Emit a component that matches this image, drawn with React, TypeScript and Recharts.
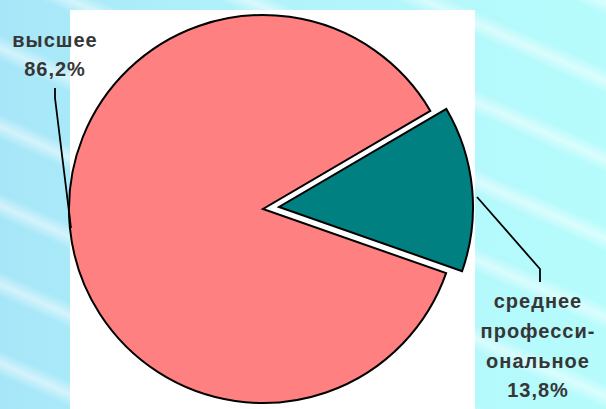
import React from 'react';
import { PieChart, Pie, Cell } from 'recharts';

const categories = ['среднее профессиональное', 'высшее'];
const values = [13.8, 86.2];
const valueLabels = ['13,8%', '86,2%'];
const labelLines = [['среднее', 'професси-', 'ональное'], ['высшее']];

const data = categories.map((name, i) => ({ name, value: values[i], label: valueLabels[i] }));

const COLORS = ['#008080', '#FF8080'];
const TEXT = '#363636';
const FONT = '"Liberation Sans", Arial, sans-serif';

const textStyle = {
  fontFamily: FONT,
  fontWeight: 700,
  fontSize: 20,
  fill: TEXT,
  letterSpacing: 1,
};

function makeLabel(visibleIndex: number) {
  return (props: any) => {
    const { index, cx, cy } = props;
    if (index !== visibleIndex) return null;
    const entry = data[index];
    if (index === 1) {
      return (
        <g>
          <polyline
            points={`${cx - 208},${cy - 121} ${cx - 208},${cy - 111} ${cx - 192},${cy + 19}`}
            fill="none"
            stroke="#000"
            strokeWidth={1.8}
          />
          <text x={cx - 208} y={cy - 162} textAnchor="middle" style={textStyle}>
            {labelLines[1][0]}
          </text>
          <text x={cx - 208} y={cy - 133} textAnchor="middle" style={textStyle}>
            {entry.label}
          </text>
        </g>
      );
    }
    const lines = labelLines[0];
    return (
      <g>
        <polyline
          points={`${cx + 198},${cy - 10} ${cx + 261},${cy + 62} ${cx + 261},${cy + 75}`}
          fill="none"
          stroke="#000"
          strokeWidth={1.8}
        />
        {lines.map((t, k) => (
          <text key={t} x={cx + 259} y={cy + 101 + k * 30} textAnchor="middle" style={textStyle}>
            {t}
          </text>
        ))}
        <text x={cx + 259} y={cy + 190} textAnchor="middle" style={textStyle}>
          {entry.label}
        </text>
      </g>
    );
  };
}

export default function App() {
  return (
    <div
      style={{
        position: 'absolute',
        left: 0,
        top: 0,
        width: 606,
        height: 409,
        overflow: 'hidden',
        background:
          'repeating-linear-gradient(24deg, rgba(255,255,255,0) 0px, rgba(255,255,255,0) 30px, rgba(255,255,255,0.5) 42px, rgba(255,255,255,0) 54px, rgba(255,255,255,0) 72px), linear-gradient(90deg, #a6e6f8 0%, #b0f2fa 40%, #b6fcfc 100%)',
      }}
    >
      <div
        style={{
          position: 'absolute',
          left: 70,
          top: 10,
          width: 405,
          height: 399,
          background: '#ffffff',
        }}
      />
      <div style={{ position: 'absolute', left: 0, top: 0 }}>
        <PieChart width={606} height={409} margin={{ top: 0, right: 0, bottom: 0, left: 0 }}>
          <Pie
            data={data}
            dataKey="value"
            nameKey="name"
            cx={263}
            cy={209}
            outerRadius={194}
            startAngle={-19.3}
            endAngle={340.7}
            isAnimationActive={false}
            labelLine={false}
            label={makeLabel(1)}
          >
            {data.map((d, i) => (
              <Cell
                key={d.name}
                fill={i === 1 ? COLORS[1] : 'none'}
                stroke={i === 1 ? '#000' : 'none'}
                strokeWidth={2}
              />
            ))}
          </Pie>
          <Pie
            data={data}
            dataKey="value"
            nameKey="name"
            cx={279}
            cy={207}
            outerRadius={194}
            startAngle={-19.3}
            endAngle={340.7}
            isAnimationActive={false}
            labelLine={false}
            label={makeLabel(0)}
          >
            {data.map((d, i) => (
              <Cell
                key={d.name}
                fill={i === 0 ? COLORS[0] : 'none'}
                stroke={i === 0 ? '#000' : 'none'}
                strokeWidth={2}
              />
            ))}
          </Pie>
        </PieChart>
      </div>
    </div>
  );
}
